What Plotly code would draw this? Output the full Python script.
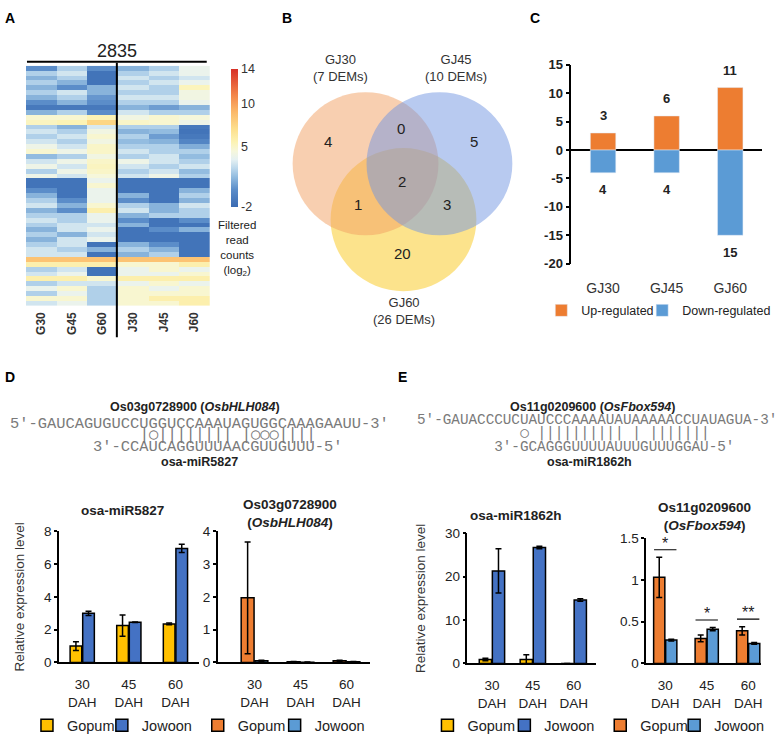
import plotly.graph_objects as go

W, H = 784, 743
def px(x): return x / W
def py(y): return 1 - y / H

FONT = "Liberation Sans, Arial, sans-serif"
MONO = "Liberation Mono, Courier New, monospace"
MONO2 = "DejaVu Sans Mono, monospace"

# ---------------- Data ----------------
# Panel A: heat map (log2 filtered read counts), rows top->bottom
heat_samples = ["G30", "G45", "G60", "J30", "J45", "J60"]
heat_total = "2835"
heat_values = [
    [0, 2.2, 0, 1.2, 2.2, 3.8],
    [2.2, 3, -1.5, 2.2, 3, 3.8],
    [1.2, 2.2, -1.5, 3, 2.2, 3],
    [2.2, 1.2, -1.5, 2.2, 3, 3.8],
    [1.2, 0, 1.2, 3, 2.2, 5.3],
    [2.2, 3, 1.2, 2.2, 2.2, 4.2],
    [1.2, 2.2, 0.3, 3, 3, 4.2],
    [0, 1.2, 0, 2.2, 2.2, 3.8],
    [-1.2, -1.2, -1.2, 1.2, 0.5, 1.2],
    [1.2, 2.2, 0, 3, 2.2, 2.2],
    [4.8, 4.8, 5.5, 4.2, 4.8, 4.5],
    [5.2, 5.5, 7.5, 5, 4.8, 4],
    [2.2, 1.2, 3.2, 2.2, 2.2, -1.2],
    [3, 2.2, 4.2, 1.2, 1.5, -1.5],
    [2.2, 3, 4.8, 2.2, 0.5, -1.2],
    [3, 2.2, 4.2, 1.5, 1.2, -0.5],
    [4, 3, 5, 2.2, 2.2, 1],
    [4.8, 4, 5, 3, 2.2, 2.2],
    [1.5, 2.2, 4.2, 2.2, 3, 1.5],
    [3, 4, 5, 4, 3, 2.2],
    [4, 3, 5.2, 3, 2.2, 3],
    [2.2, 4, 5, 2.2, 3, 1.5],
    [4, 3, 4.5, 3, 4, 2.2],
    [-1.5, -1.5, 3.8, -1.5, -1.5, -1.5],
    [-1.5, -1.5, 4.8, -1.5, -1.5, -1.5],
    [0, -1.5, 3.8, -1.5, -1.5, 1.2],
    [1.2, -1.5, 3.8, 1.2, -1.5, 2.2],
    [2.2, 0, 3.8, 0, -1.5, 1.2],
    [3, 1.2, 4.8, 2.2, 1.2, 3],
    [1.2, 0, 5.8, 3, 1.2, 2.2],
    [2.2, 2.2, 3.8, 1.2, 2.2, 2.2],
    [3, 2.2, 3.8, 0, -1.5, 0],
    [2.2, 3, 3, 1.2, -1.5, -1.5],
    [1.2, 3, 3.8, -1.5, 0, 1.2],
    [2.2, 1.2, 3, -1.5, -1.5, -1.5],
    [1.2, 3, 3.8, -1.5, -1.5, -1.5],
    [2.2, 3, -1.5, 1.2, 0, -1.5],
    [3, 2.2, 1.2, 2.2, 1.2, -1.5],
    [3, 3, -1.5, 1.2, 2.2, -1.5],
    [8.5, 8.5, 8.5, 8.5, 8.5, 8.5],
    [5.8, 5.8, 5.8, 4.8, 4.8, 5.8],
    [2.2, 3, -1.5, 3.8, 4.8, 3.8],
    [3, 3.8, -1.5, 3.8, 3.8, 4.8],
    [5.8, 5.8, 4.8, 5.8, 5.8, 5.8],
    [2.2, 3, 3, 3.8, 4.8, 3.8],
    [3.8, 4.8, 2.2, 4.8, 3.8, 4.8],
    [2.2, 3.8, 2.2, 4.8, 4.8, 4.8],
    [4.8, 4.8, 2.2, 4.8, 5.8, 5.8],
    [3, 3.8, 2.2, 4.8, 4.8, 5.8],
]
heat_ticks = [-2, 5, 10, 14]
heat_ticktext = ["-2", "5", "10", "14"]

# Panel B: Venn diagram
venn_names = ["GJ30<br>(7 DEMs)", "GJ45<br>(10 DEMs)", "GJ60<br>(26 DEMs)"]
venn_regions = ["GJ30", "GJ30&GJ45", "GJ45", "all", "GJ30&GJ60", "GJ45&GJ60", "GJ60"]
venn_counts = [4, 0, 5, 2, 1, 3, 20]

# Panel C: up/down-regulated DEMs
c_groups = ["GJ30", "GJ45", "GJ60"]
c_up = [3, 6, 11]
c_down = [-4, -4, -15]
c_ticks = [-20, -15, -10, -5, 0, 5, 10, 15]
c_ticktext = ["-20", "-15", "-10", "-5", "0", "5", "10", "15"]

# Panels D/E: qRT-PCR
dah = ["30<br>DAH", "45<br>DAH", "60<br>DAH"]
d1_gopum = [1.0, 2.25, 2.35];  d1_gopum_err = [0.27, 0.65, 0.05]
d1_jowoon = [3.0, 2.45, 6.95]; d1_jowoon_err = [0.13, 0.02, 0.25]
d2_gopum = [1.97, 0.02, 0.05]; d2_gopum_err = [1.7, 0.01, 0.02]
d2_jowoon = [0.05, 0.01, 0.02]; d2_jowoon_err = [0.02, 0.005, 0.01]
e1_gopum = [0.9, 0.9, 0.0];    e1_gopum_err = [0.3, 1.1, 0.0]
e1_jowoon = [21.3, 26.7, 14.6]; e1_jowoon_err = [5.1, 0.3, 0.3]
e2_gopum = [1.03, 0.30, 0.39]; e2_gopum_err = [0.24, 0.04, 0.05]
e2_jowoon = [0.28, 0.41, 0.24]; e2_jowoon_err = [0.01, 0.02, 0.01]
e2_sig = ["*", "*", "**"]

# Sequences
d_gene = "Os03g0728900 (<i>OsbHLH084</i>)"
d_target = "5'-GAUCAGUGUCCUGGUCCAAAUAGUGGCAAAGAAUU-3'"
d_pairs = "\u00a0" * 14 + "|○||||||||" + "\u00a0" + "|○○○||||"
d_mirna_seq = "\u00a0" * 9 + "3'-CCAUCAGGUUUAACGUUGUUU-5'"
d_mirna = "osa-miR5827"
e_gene = "Os11g0209600 (<i>OsFbox594</i>)"
e_target = "5'-GAUACCCUCUAUCCCAAAAUAUAAAAACCUAUAGUA-3'"
e_pairs = "\u00a0" * 12 + "○" + "\u00a0" + "|" * 10 + "\u00a0" + "|" + "\u00a0" + "|" * 7
e_mirna_seq = "\u00a0" * 9 + "3'-GCAGGGUUUUAUUUGUUUGGAU-5'"
e_mirna = "osa-miR1862h"

# ---------------- Colours ----------------
C_ORANGE = "#ED7D31"
C_LBLUE = "#5B9BD5"
C_YELLOW = "#FFC000"
C_DBLUE = "#4472C4"

heat_scale = [
    [0.0, "#3a6bb3"], [0.125, "#5b8dc9"], [0.22, "#94bde0"], [0.28, "#bcd8ec"],
    [0.345, "#e6f1f2"], [0.405, "#f6f7dc"], [0.47, "#fcf3b4"], [0.5625, "#fde08e"],
    [0.69, "#fbb869"], [0.81, "#f3864a"], [1.0, "#d73027"],
]

fig = go.Figure()

# ---- A: heatmap
fig.add_trace(go.Heatmap(
    z=heat_values, x=heat_samples, y=list(range(len(heat_values))),
    colorscale=heat_scale, zmin=-2, zmax=14, xaxis="x", yaxis="y",
    showscale=True, showlegend=False,
    colorbar=dict(x=px(231), xanchor="left", y=py(133.5), yanchor="middle",
                  len=141 / H, lenmode="fraction", thickness=7, thicknessmode="pixels",
                  xpad=0, ypad=0, outlinewidth=0, tickvals=heat_ticks, ticktext=heat_ticktext,
                  ticks="", tickfont=dict(size=12.5, color="#333", family=FONT)),
))

# ---- C: bars
fig.add_trace(go.Bar(x=c_groups, y=c_up, width=0.4, offset=-0.2, name="Up-regulated",
                     marker=dict(color=C_ORANGE), xaxis="x2", yaxis="y2", legend="legend",
                     showlegend=True))
fig.add_trace(go.Bar(x=c_groups, y=c_down, width=0.4, offset=-0.2, name="Down-regulated",
                     marker=dict(color=C_LBLUE), xaxis="x2", yaxis="y2", legend="legend2",
                     showlegend=True))

def add_pair(xa, ya, g, ge, j, je, gc, jc, lg, lj, w=0.27):
    fig.add_trace(go.Bar(x=dah, y=g, width=w, offset=-w - 0.01, name="Gopum", showlegend=True,
                         marker=dict(color=gc, line=dict(color="black", width=1.5)),
                         error_y=dict(type="data", array=ge, color="black", thickness=1.5, width=3),
                         xaxis=xa, yaxis=ya, legend=lg))
    fig.add_trace(go.Bar(x=dah, y=j, width=w, offset=0.01, name="Jowoon", showlegend=True,
                         marker=dict(color=jc, line=dict(color="black", width=1.5)),
                         error_y=dict(type="data", array=je, color="black", thickness=1.5, width=3),
                         xaxis=xa, yaxis=ya, legend=lj))

add_pair("x3", "y3", d1_gopum, d1_gopum_err, d1_jowoon, d1_jowoon_err, C_YELLOW, C_DBLUE, "legend3", "legend4", 0.25)
add_pair("x4", "y4", d2_gopum, d2_gopum_err, d2_jowoon, d2_jowoon_err, C_ORANGE, C_LBLUE, "legend5", "legend6", 0.28)
add_pair("x5", "y5", e1_gopum, e1_gopum_err, e1_jowoon, e1_jowoon_err, C_YELLOW, C_DBLUE, "legend7", "legend8", 0.3)
add_pair("x6", "y6", e2_gopum, e2_gopum_err, e2_jowoon, e2_jowoon_err, C_ORANGE, C_LBLUE, "legend9", "legend10", 0.27)

# ---------------- Layout ----------------
tickf = dict(size=13.5, color="#222", family=FONT)
def bar_x(dom, rng):
    return dict(domain=[px(dom[0]), px(dom[1])], range=rng, showline=True, linecolor="black",
                linewidth=1.5, ticks="", showgrid=False, zeroline=False, tickfont=tickf,
                fixedrange=True, ticklabelstandoff=9)
def bar_y(dom, rng, dtick, title=None):
    d = dict(domain=[py(dom[0]), py(dom[1])], range=rng, dtick=dtick, showline=True,
             linecolor="black", linewidth=1.5, ticks="outside", ticklen=3, tickwidth=1.5,
             tickcolor="black", showgrid=False, zeroline=False, tickfont=tickf)
    if title:
        d["title"] = dict(text=title, font=dict(size=13.5, color="#333", family=FONT), standoff=16)
    return d

def leg(x, y, fs=14.5):
    return dict(x=px(x), y=py(y), xanchor="left", yanchor="middle", orientation="h",
                font=dict(size=fs, color="#222", family=FONT), bgcolor="rgba(0,0,0,0)",
                itemwidth=30, tracegroupgap=0, visible=True)

fig.update_layout(
    width=W, height=H, margin=dict(l=0, r=0, t=0, b=0),
    paper_bgcolor="white", plot_bgcolor="white",
    font=dict(family=FONT, color="#222"),
    barmode="overlay", showlegend=True,
    xaxis=dict(domain=[px(26), px(210)], range=[-0.5, 5.5], showgrid=False, zeroline=False,
               ticks="", tickangle=-90, tickfont=dict(size=12, color="#333", family=FONT, weight="bold"),
               ticklabelstandoff=3),
    yaxis=dict(domain=[py(305), py(60)], range=[len(heat_values) - 0.5, -0.5], showgrid=False,
               zeroline=False, showticklabels=False, ticks=""),
    xaxis2=dict(domain=[px(572), px(763)], range=[-0.5, 2.5], showgrid=False, zeroline=False,
                showline=False, ticks="", tickfont=dict(size=14, color="#333", family=FONT),
                ticklabelstandoff=14, anchor="y2"),
    yaxis2=dict(domain=[py(262), py(59)], range=[-20, 15], tickvals=c_ticks, ticktext=c_ticktext,
                showline=True, linecolor="black",
                linewidth=1.5, ticks="outside", ticklen=4, tickwidth=1.5, tickcolor="black",
                showgrid=False, zeroline=True, zerolinecolor="black", zerolinewidth=1.5,
                tickfont=dict(size=13, color="#222", family=FONT, weight="bold"), anchor="x2"),
    xaxis3=dict(bar_x((59, 199), [-0.5, 2.5]), anchor="y3"),
    yaxis3=dict(bar_y((669, 535), [0, 8], 2, "Relative expression level"), anchor="x3"),
    xaxis4=dict(bar_x((218, 370), [-0.8, 2.5]), anchor="y4"),
    yaxis4=dict(bar_y((669, 535), [0, 4], 1), anchor="x4"),
    xaxis5=dict(bar_x((468, 597), [-0.6, 2.55]), anchor="y5"),
    yaxis5=dict(bar_y((670, 537), [0, 30], 10, "Relative expression level"), anchor="x5"),
    xaxis6=dict(bar_x((647, 762), [-0.46, 2.31]), anchor="y6"),
    yaxis6=dict(bar_y((670, 542), [0, 1.5], 0.5), anchor="x6"),
    legend=leg(542, 310, 12.5),
    legend2=leg(643, 310, 12.5),
    legend3=leg(27, 733),
    legend4=leg(102, 733),
    legend5=leg(198, 733),
    legend6=leg(275, 733),
    legend7=leg(428, 733),
    legend8=leg(505, 733),
    legend9=leg(601, 733),
    legend10=leg(675, 733),
)

ann = []
def A(x, y, text, size=13, color="#222", xanchor="center", yanchor="middle", family=FONT, **kw):
    ann.append(dict(x=px(x), y=py(y), xref="paper", yref="paper", text=text, showarrow=False,
                    xanchor=xanchor, yanchor=yanchor, font=dict(size=size, color=color, family=family), **kw))

# panel letters
for lt, (x, y) in zip("ABCDE", [(10, 11), (287, 11), (536, 11), (10, 378), (403, 378)]):
    A(x, y, f"<b>{lt}</b>", size=14, color="black")

# A decorations
A(117, 45, heat_total, size=18)
A(237, 246, "Filtered<br>read<br>counts<br>(log<sub>2</sub>)", size=11.5)

# B venn
venn_name_pos = [(341, 62), (457, 62), (405, 310)]
for name, (x, y) in zip(venn_names, venn_name_pos):
    A(x, y, name, size=13, color="#333")
venn_pos = [(328, 137), (402, 124), (475, 137), (403, 178), (358, 202), (448, 202), (403, 252)]
for cnt, (x, y) in zip(venn_counts, venn_pos):
    A(x, y, str(cnt), size=15, color="#222")

# C bar labels
for i, g in enumerate(c_groups):
    ann.append(dict(x=g, y=c_up[i], xref="x2", yref="y2", text=f"<b>{c_up[i]}</b>", showarrow=False,
                    yshift=17, font=dict(size=13, color="#222", family=FONT)))
    ann.append(dict(x=g, y=c_down[i], xref="x2", yref="y2", text=f"<b>{abs(c_down[i])}</b>",
                    showarrow=False, yshift=-17, font=dict(size=13, color="#222", family=FONT)))

# D / E sequences
SEQC = "#7a7a7a"
A(195, 408, f"<b>{d_gene}</b>", size=12.5)
A(8, 426, d_target, size=15.4, color=SEQC, xanchor="left", family=MONO)
A(8, 435.5, d_pairs, size=15.4, color=SEQC, xanchor="left", family=MONO2)
A(8, 449, d_mirna_seq, size=15.4, color=SEQC, xanchor="left", family=MONO)
A(200, 464, f"<b>{d_mirna}</b>", size=12.5)

A(593, 408, f"<b>{e_gene}</b>", size=12.5)
A(416, 422, e_target, size=14.3, color=SEQC, xanchor="left", family=MONO)
A(416, 434.5, e_pairs, size=14.3, color=SEQC, xanchor="left", family=MONO2)
A(416, 449, e_mirna_seq, size=14.3, color=SEQC, xanchor="left", family=MONO)
A(590, 464, f"<b>{e_mirna}</b>", size=12.5)

# subplot titles
A(123, 514, "<b>osa-miR5827</b>", size=13.5)
A(290, 517, "<b>Os03g0728900<br>(<i>OsbHLH084</i>)</b>", size=13.5)
A(517, 519, "<b>osa-miR1862h</b>", size=13.5)
A(705, 520, "<b>Os11g0209600<br>(<i>OsFbox594</i>)</b>", size=13.5)

# significance in E right
shapes = []
for i, s in enumerate(e2_sig):
    top = max(e2_gopum[i] + e2_gopum_err[i], e2_jowoon[i] + e2_jowoon_err[i]) + 0.09
    shapes.append(dict(type="line", xref="x6", yref="y6", x0=i - 0.27, x1=i + 0.27, y0=top, y1=top,
                       line=dict(color="black", width=1.2)))
    ann.append(dict(x=dah[i], y=top, xref="x6", yref="y6", text=s, showarrow=False, yanchor="bottom",
                    yshift=-4, font=dict(size=16, color="#222", family=FONT)))

# heatmap lines
shapes.append(dict(type="line", xref="paper", yref="paper", x0=px(27), x1=px(207), y0=py(56), y1=py(56),
                   line=dict(color="black", width=2)))
shapes.append(dict(type="line", xref="paper", yref="paper", x0=px(117), x1=px(117), y0=py(57), y1=py(337),
                   line=dict(color="black", width=2)))

# venn circles (yellow, orange, blue)
circ = [((404, 217), "rgba(249,199,25,0.5)"), ((366, 160), "rgba(241,159,97,0.5)"),
        ((440, 160), "rgba(113,149,225,0.5)")]
R = 73
for (cx, cy), col in circ:
    shapes.append(dict(type="circle", xref="paper", yref="paper", x0=px(cx - R), x1=px(cx + R),
                       y0=py(cy + R), y1=py(cy - R), fillcolor=col, line=dict(width=0)))

fig.update_layout(annotations=ann, shapes=shapes)
fig.write_html("out.html", config={"displayModeBar": False},
               post_script="document.body.style.margin='0';")
